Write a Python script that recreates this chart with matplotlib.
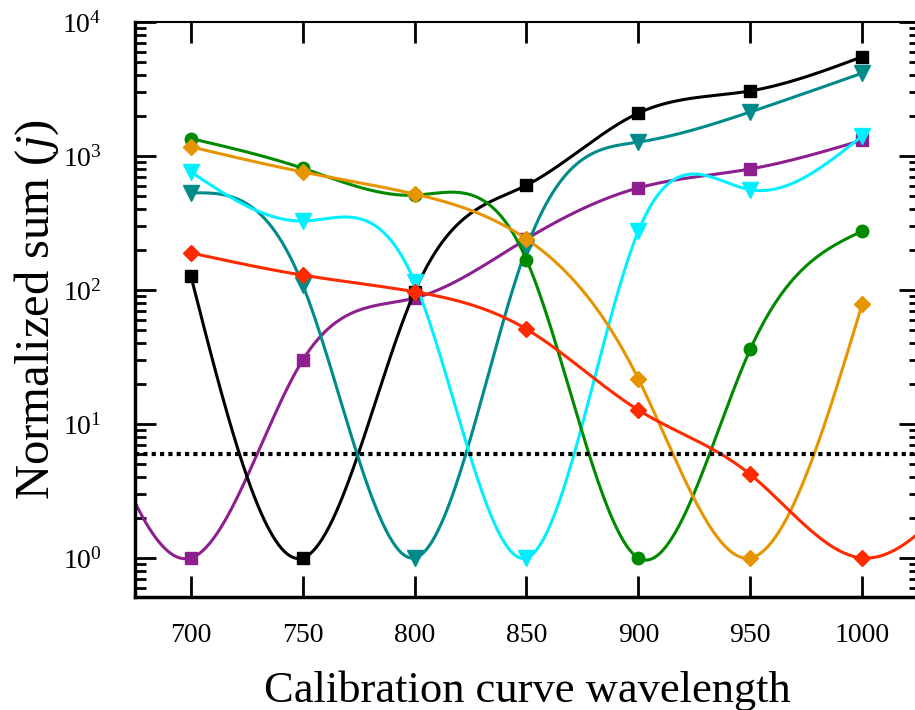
import numpy as np
import matplotlib
matplotlib.use('Agg')
import matplotlib.pyplot as plt
from matplotlib.ticker import LogLocator, LogFormatterMathtext, NullFormatter

plt.rcParams['font.family'] = ['Liberation Serif', 'DejaVu Serif']
plt.rcParams['mathtext.fontset'] = 'custom'
plt.rcParams['mathtext.rm'] = 'Liberation Serif'
plt.rcParams['mathtext.it'] = 'Liberation Serif:italic'

wavelength = [700, 750, 800, 850, 900, 950, 1000]

black_sq = [127, 1.0, 97, 605, 2090, 3060, 5500]
teal_tri = [530, 109, 1.0, 205, 1270, 2130, 4150]
purple_sq = [1.0, 30, 87, 240, 578, 800, 1310]
cyan_tri = [760, 327, 115, 1.0, 275, 560, 1410]
green_ci = [1350, 810, 510, 168, 1.0, 36, 275]
orange_di = [1170, 760, 520, 240, 21.7, 1.0, 78]
red_di = [189, 129, 97, 51, 12.7, 4.2, 1.0]

threshold = 6.0

# (values, colour, marker, markersize, curve continues past left / right end as a minimum)
series = [
    (purple_sq, '#8e1f8e', 's', 9, 'left'),
    (black_sq, 'black', 's', 9, None),
    (teal_tri, '#008b8b', 'v', 11, None),
    (cyan_tri, '#00f0ff', 'v', 11, None),
    (green_ci, '#008a00', 'o', 9, None),
    (orange_di, '#e69500', 'D', 8.5, None),
    (red_di, '#ff2a00', 'D', 8.5, 'right'),
]


def spline_log(x, y, xs):
    # natural cubic spline through log10(y), evaluated at xs
    x = np.asarray(x, float)
    ly = np.log10(y)
    n = len(x)
    h = np.diff(x)
    A = np.zeros((n, n))
    r = np.zeros(n)
    A[0, 0] = A[-1, -1] = 1
    for i in range(1, n - 1):
        A[i, i - 1] = h[i - 1]
        A[i, i] = 2 * (h[i - 1] + h[i])
        A[i, i + 1] = h[i]
        r[i] = 6 * ((ly[i + 1] - ly[i]) / h[i] - (ly[i] - ly[i - 1]) / h[i - 1])
    M = np.linalg.solve(A, r)
    idx = np.clip(np.searchsorted(x, xs) - 1, 0, n - 2)
    x0, x1 = x[idx], x[idx + 1]
    hh = x1 - x0
    a = (x1 - xs) / hh
    b = (xs - x0) / hh
    out = a * ly[idx] + b * ly[idx + 1] + ((a**3 - a) * M[idx] + (b**3 - b) * M[idx + 1]) * hh**2 / 6
    return 10 ** out


fig = plt.figure(figsize=(9.15, 7.1), dpi=100)
ax = fig.add_axes([0.1475, 0.159, 0.858, 0.81])

x_lo, x_hi = 675, 1025.9
for vals, col, mk, ms, edge in series:
    xw = list(wavelength)
    yw = list(vals)
    xs = np.linspace(wavelength[0], wavelength[-1], 400)
    if edge == 'left':
        # curve mirrored about its minimum at the first point
        xw = [2 * xw[0] - xw[1]] + xw
        yw = [yw[1]] + yw
        xs = np.linspace(x_lo, wavelength[-1], 400)
    elif edge == 'right':
        xw = xw + [2 * xw[-1] - xw[-2]]
        yw = yw + [yw[-2]]
        xs = np.linspace(wavelength[0], x_hi, 400)
    ax.plot(xs, spline_log(xw, yw, xs), color=col, lw=2.2)
    ax.plot(wavelength, vals, linestyle='None', marker=mk, color=col, markersize=ms)

ax.axhline(threshold, color='black', lw=3, linestyle=(0, (1, 1)))

ax.set_yscale('log')
ax.set_xlim(x_lo, x_hi)
ax.set_ylim(0.51, 1e4)
ax.set_xticks(wavelength)
ax.yaxis.set_major_locator(LogLocator(base=10, numticks=10))
ax.yaxis.set_minor_locator(LogLocator(base=10, subs=np.arange(2, 10), numticks=10))
ax.yaxis.set_major_formatter(LogFormatterMathtext())
ax.yaxis.set_minor_formatter(NullFormatter())

ax.tick_params(axis='x', which='major', direction='in', length=15, width=2,
               top=True, labelsize=20, pad=19)
ax.tick_params(axis='y', which='major', direction='in', length=15, width=2,
               right=True, labelsize=20, pad=24)
ax.tick_params(axis='y', which='minor', direction='in', length=8, width=2, right=True)

for s in ['left', 'bottom']:
    ax.spines[s].set_linewidth(2.5)
for s in ['top', 'right']:
    ax.spines[s].set_linewidth(1.5)

ax.set_xlabel('Calibration curve wavelength', fontsize=32, labelpad=16)
ax.set_ylabel('Normalized sum ($\\mathit{j}$)', fontsize=35)
ax.yaxis.set_label_coords(-0.094, 0.5)

plt.savefig('out.png', dpi=100)
